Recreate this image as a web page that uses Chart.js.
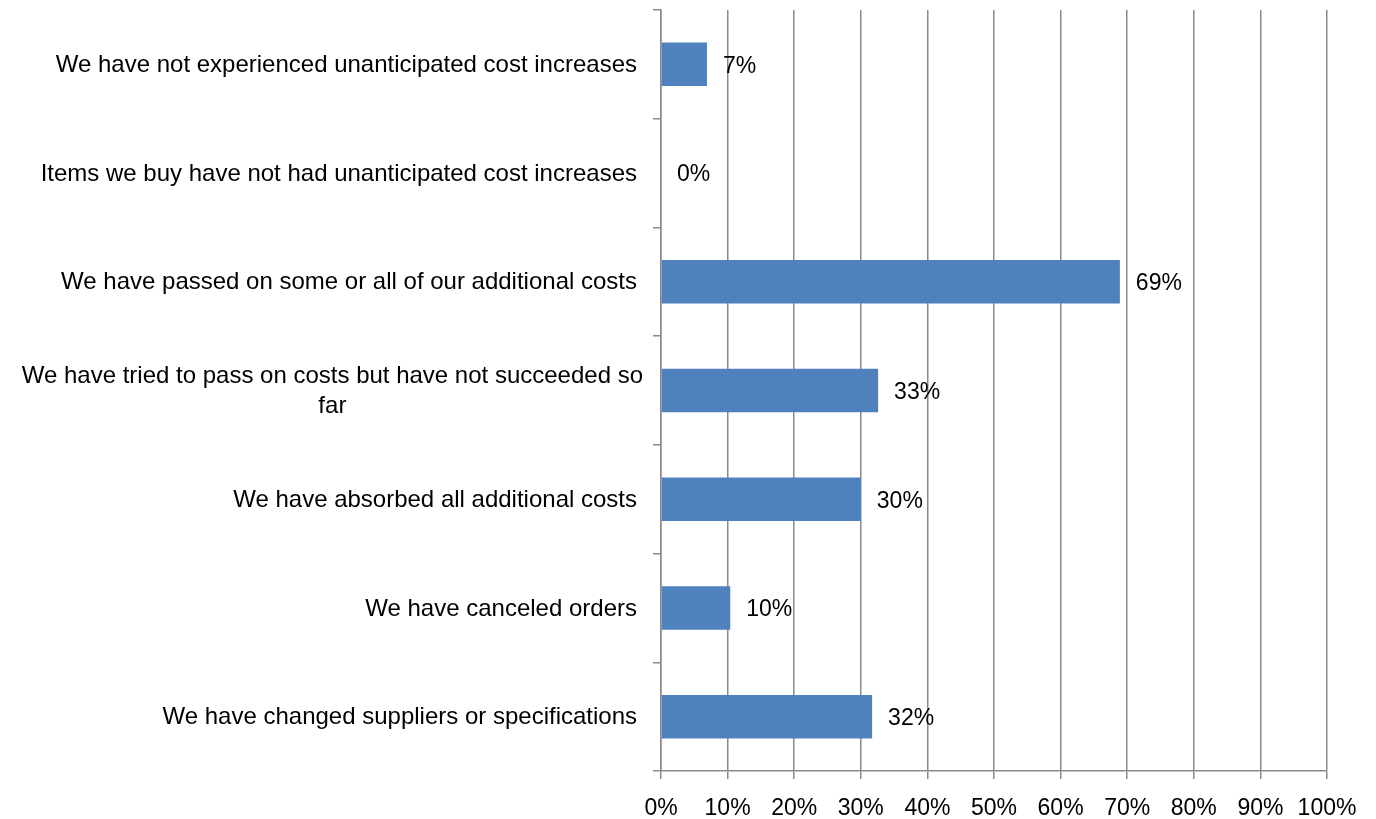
<!DOCTYPE html>
<html>
<head>
<meta charset="utf-8">
<script src="https://cdn.jsdelivr.net/npm/chart.js@4.4.1/dist/chart.umd.min.js"></script>
<style>
  html, body { margin: 0; padding: 0; background: #fff; }
  #wrap { width: 1376px; height: 819px; position: relative; }
</style>
</head>
<body>
<div id="wrap"><canvas id="chart"></canvas></div>
<script>
// ---- data -------------------------------------------------------------------

const categories = [
  'We have not experienced unanticipated cost increases',
  'Items we buy have not had unanticipated cost increases',
  'We have passed on some or all of our additional costs',
  ['We have tried to pass on costs but have not succeeded so', 'far'],
  'We have absorbed all additional costs',
  'We have canceled orders',
  'We have changed suppliers or specifications'
];
const shares = [6.9, 0, 68.9, 32.6, 30.0, 10.4, 31.7];
const xTicks = [0, 10, 20, 30, 40, 50, 60, 70, 80, 90, 100];

// ---- styling ----------------------------------------------------------------

const FONT = '"Liberation Sans", Arial, sans-serif';
const LABEL_SIZE = 24;
const NUM_SIZE = 23;
const GRID = '#8a8a8a';
const BAR = '#4f81bd';

// data labels at the end of each bar
const valueLabels = {
  id: 'valueLabels',
  afterDatasetsDraw(chart) {
    const ctx = chart.ctx;
    const meta = chart.getDatasetMeta(0);
    ctx.save();
    ctx.font = NUM_SIZE + 'px ' + FONT;
    ctx.fillStyle = '#000';
    ctx.textAlign = 'left';
    ctx.textBaseline = 'middle';
    meta.data.forEach((bar, i) => {
      ctx.fillText(Math.round(shares[i]) + '%', bar.x + 16, bar.y + 2);
    });
    ctx.restore();
  }
};

// category labels, right aligned; wrapped lines centred on the widest one
const categoryLabels = {
  id: 'categoryLabels',
  afterDraw(chart) {
    const ctx = chart.ctx;
    const y = chart.scales.y;
    const right = chart.chartArea.left - 24;
    const lh = 30;
    ctx.save();
    ctx.font = LABEL_SIZE + 'px ' + FONT;
    ctx.fillStyle = '#000';
    ctx.textBaseline = 'middle';
    categories.forEach((lab, i) => {
      const cy = y.getPixelForValue(i);
      const lines = Array.isArray(lab) ? lab : [lab];
      const top = cy - (lines.length - 1) * lh / 2 + 1;
      if (lines.length === 1) {
        ctx.textAlign = 'right';
        ctx.fillText(lines[0], right, top);
        return;
      }
      const w = Math.max(...lines.map(l => ctx.measureText(l).width));
      const mid = right + 6 - w / 2;
      ctx.textAlign = 'center';
      lines.forEach((l, k) => ctx.fillText(l, mid, top + k * lh));
    });
    ctx.restore();
  }
};

new Chart(document.getElementById('chart'), {
  type: 'bar',
  data: {
    labels: categories,
    datasets: [{
      data: shares,
      backgroundColor: BAR,
      borderWidth: 0,
      barPercentage: 0.4,
      categoryPercentage: 1
    }]
  },
  options: {
    indexAxis: 'y',
    responsive: true,
    maintainAspectRatio: false,
    animation: false,
    layout: { padding: { left: 653, top: 10, right: 49, bottom: 0 } },
    plugins: {
      legend: { display: false },
      tooltip: { enabled: false }
    },
    scales: {
      x: {
        min: 0,
        max: 100,
        afterBuildTicks: s => { s.ticks = xTicks.map(v => ({ value: v })); },
        afterFit: s => { s.height = 48; },
        ticks: {
          callback: v => v + '%',
          color: '#000',
          padding: 16,
          maxRotation: 0,
          font: { family: FONT, size: NUM_SIZE }
        },
        grid: { color: GRID, lineWidth: 1.5, tickLength: 8 },
        border: { color: GRID, width: 1.5 }
      },
      y: {
        ticks: { display: false },
        grid: { color: GRID, lineWidth: 1.5, tickLength: 8, drawOnChartArea: false, offset: true },
        border: { color: GRID, width: 1.5 }
      }
    }
  },
  plugins: [valueLabels, categoryLabels]
});
</script>
</body>
</html>
